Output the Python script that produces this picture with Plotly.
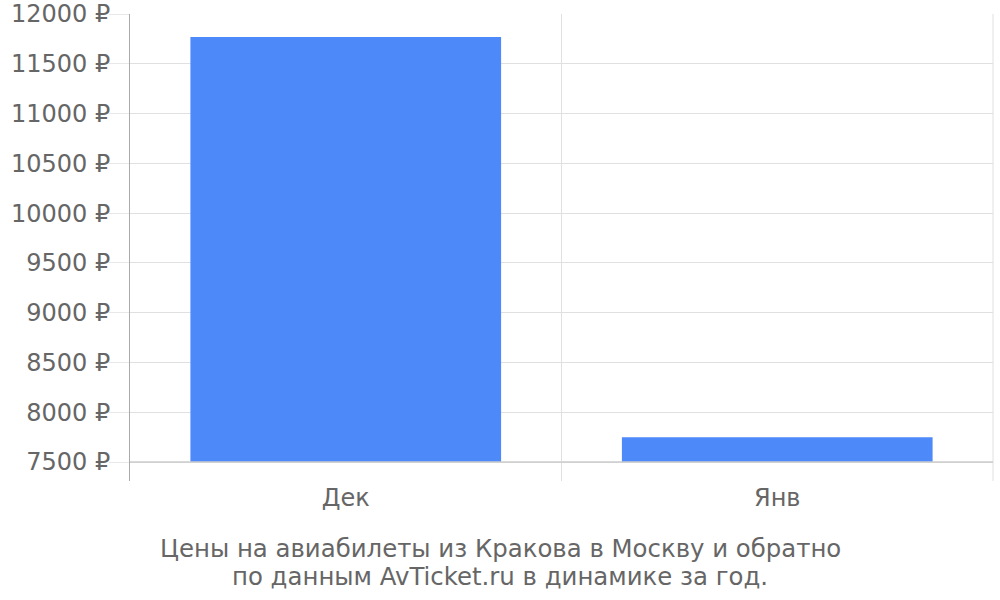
import plotly.graph_objects as go

months = ["Дек", "Янв"]
prices = [11770, 7750]
base_price = 7500
tick_vals = [7500, 8000, 8500, 9000, 9500, 10000, 10500, 11000, 11500, 12000]
tick_text = [f"{v} ₽" for v in tick_vals]
title_lines = ["Цены на авиабилеты из Кракова в Москву и обратно",
               "по данным AvTicket.ru в динамике за год."]

FONT = "DejaVu Sans"
FS = 24
fig = go.Figure()
fig.add_trace(go.Bar(
    x=months, y=[p - base_price for p in prices], base=base_price,
    marker=dict(color="#4d89f9", line=dict(width=0)), width=0.72,
    hoverinfo="skip"))

plot_h = 481 - 14
title_x = (500 - 130) / 863
fig.update_layout(
    width=1000, height=600,
    margin=dict(l=130, r=7, t=14, b=119, autoexpand=False),
    paper_bgcolor="white", plot_bgcolor="white",
    showlegend=False,
    font=dict(family=FONT, size=FS, color="#666666"),
    xaxis=dict(type="category", range=[-0.5, 1.5], tickson="boundaries",
               showgrid=True, gridcolor="#e0e0e0", gridwidth=1,
               ticks="", ticklen=0, showline=False, zeroline=False, automargin=False,
               tickfont=dict(size=FS, color="#666666")),
    yaxis=dict(range=[7310, 12000], tickvals=tick_vals, ticktext=tick_text,
               showgrid=True, gridcolor="#e0e0e0", gridwidth=1,
               ticks="outside", ticklen=20, tickcolor="#e8e8e8", tickwidth=1,
               showline=True, linecolor="#aaaaaa", linewidth=1,
               zeroline=False, ticklabelstandoff=-6, automargin=False,
               tickfont=dict(size=FS, color="#666666")),
    annotations=[
        dict(text=title_lines[0], xref="paper", yref="paper",
             x=title_x, y=-(548 - 481) / plot_h, xanchor="center", yanchor="middle",
             showarrow=False, font=dict(family=FONT, size=24.4, color="#666666")),
        dict(text=title_lines[1], xref="paper", yref="paper",
             x=title_x, y=-(576 - 481) / plot_h, xanchor="center", yanchor="middle",
             showarrow=False, font=dict(family=FONT, size=24.4, color="#666666")),
    ],
    shapes=[
        dict(type="line", xref="paper", yref="paper", x0=1, x1=1, y0=0, y1=1,
             line=dict(color="#e0e0e0", width=1), layer="below"),
        dict(type="line", xref="paper", yref="y", x0=0, x1=1, y0=base_price, y1=base_price,
             line=dict(color="#cccccc", width=1.5)),
    ],
)
fig.write_html("out.html", config={"displayModeBar": False},
               post_script="document.body.style.margin='0';document.body.style.overflow='hidden';")
